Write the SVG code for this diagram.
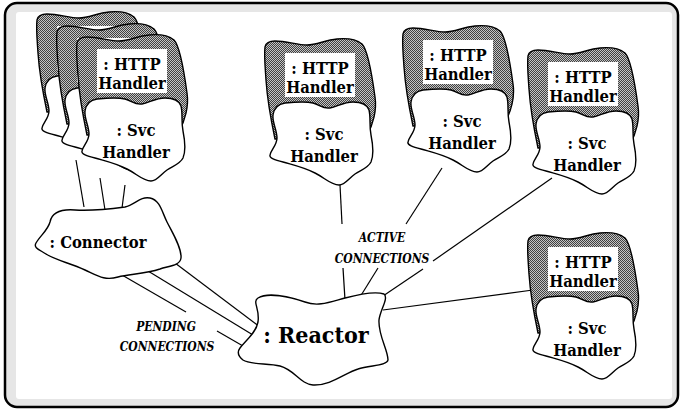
<svg xmlns="http://www.w3.org/2000/svg" xmlns:xlink="http://www.w3.org/1999/xlink" width="680" height="409" viewBox="0 0 680 409">
<style>
.cloud{fill:#fff;stroke:#000;stroke-width:1.4;stroke-linejoin:round}
.dark{fill:url(#dither);stroke:#000;stroke-width:1.4;stroke-linejoin:round}
.lbl{fill:#fff;stroke:none}
text{font-family:'DejaVu Serif Condensed','DejaVu Serif','Liberation Serif',serif;font-weight:bold;fill:#000;text-anchor:middle}
.t{font-size:16.5px}
.big{font-size:23px}
.it{font-style:italic;font-size:12px}
.conn line{stroke:#000;stroke-width:1.2}
</style>
<defs>
<pattern id="dither" width="2" height="2" patternUnits="userSpaceOnUse">
<rect width="2" height="2" fill="#c4c4c4"/>
<rect width="1" height="1" fill="#404040"/>
<rect x="1" y="1" width="1" height="1" fill="#404040"/>
</pattern>
<g id="handlerShape">
<path class="dark" d="M0,7 C1,2 5,1 10,1 C22,1 32,5 42,5 C52,5 60,0 72,-1 C82,-2 92,0 97,4 C103,10 107,35 110,57 C112,70 108,85 102,95 L10,99 C6,80 2,55 1,40 C0,25 -1,15 0,7 Z"/>
<rect class="lbl" x="20" y="13" width="70" height="44"/>
<path class="cloud" d="M8,75 C9,68 13,64 20,63 C30,62 40,61 48,63 C55,65 58,69 65,68 C72,67 78,62 88,62 C96,62 102,64 104,70 C106,78 104,85 106,95 C108,105 109,115 106,122 C103,128 96,130 90,134 C84,138 80,145 74,145 C66,145 60,138 50,133 C38,127 28,125 18,122 C10,120 4,118 5,115 C6,110 12,105 12,98 C12,90 7,82 8,75 Z"/>
</g>
</defs>

<rect x="5" y="3" width="673" height="404" rx="12" fill="#e6e6e6" stroke="#000" stroke-width="2.5"/>
<rect x="16" y="12" width="656" height="387" rx="3" fill="#fff"/>

<g id="connectors" class="conn">
<line x1="76" y1="160" x2="84" y2="207"/>
<line x1="100" y1="178" x2="105" y2="210"/>
<line x1="125" y1="185" x2="122" y2="208"/>
<line x1="122" y1="275" x2="186" y2="312"/>
<line x1="217" y1="331" x2="243" y2="346"/>
<line x1="148" y1="271" x2="253" y2="335"/>
<line x1="175" y1="263" x2="260" y2="327"/>
<line x1="340" y1="185" x2="342" y2="224"/>
<line x1="343" y1="268" x2="345" y2="300"/>
<line x1="442" y1="168" x2="406" y2="224"/>
<line x1="378" y1="268" x2="360" y2="297"/>
<line x1="552" y1="178" x2="433" y2="261"/>
<line x1="423" y1="269" x2="383" y2="296"/>
<line x1="383" y1="310" x2="533" y2="290"/>
</g>

<g id="labels">
<text class="it" x="382" y="242">ACTIVE</text>
<text class="it" x="382" y="263">CONNECTIONS</text>
<text class="it" x="166" y="331">PENDING</text>
<text class="it" x="167" y="351">CONNECTIONS</text>
</g>

<g id="handler-stack-3" transform="translate(37,13)">
<use xlink:href="#handlerShape"/>
</g>
<g id="handler-stack-2" transform="translate(57,25)">
<use xlink:href="#handlerShape"/>
</g>
<g id="handler-stack-1" transform="translate(77,36)">
<use xlink:href="#handlerShape"/>
<text class="t" x="55" y="34">: HTTP</text>
<text class="t" x="55" y="53">Handler</text>
<text class="t" x="59" y="100">: Svc</text>
<text class="t" x="59" y="122">Handler</text>
</g>

<g id="handler-2" transform="translate(265,40)">
<use xlink:href="#handlerShape"/>
<text class="t" x="55" y="34">: HTTP</text>
<text class="t" x="55" y="53">Handler</text>
<text class="t" x="59" y="100">: Svc</text>
<text class="t" x="59" y="122">Handler</text>
</g>

<g id="handler-3" transform="translate(403,27)">
<use xlink:href="#handlerShape"/>
<text class="t" x="55" y="34">: HTTP</text>
<text class="t" x="55" y="53">Handler</text>
<text class="t" x="59" y="100">: Svc</text>
<text class="t" x="59" y="122">Handler</text>
</g>

<g id="handler-4" transform="translate(528,49)">
<use xlink:href="#handlerShape"/>
<text class="t" x="55" y="34">: HTTP</text>
<text class="t" x="55" y="53">Handler</text>
<text class="t" x="59" y="100">: Svc</text>
<text class="t" x="59" y="122">Handler</text>
</g>

<g id="handler-5" transform="translate(528,234)">
<use xlink:href="#handlerShape"/>
<text class="t" x="55" y="34">: HTTP</text>
<text class="t" x="55" y="53">Handler</text>
<text class="t" x="59" y="100">: Svc</text>
<text class="t" x="59" y="122">Handler</text>
</g>

<g id="connector">
<path class="cloud" d="M36,243 C40,236 48,230 50,222 C52,212 62,209 75,210 C90,211 110,209 125,207 C135,205 140,196 150,198 C160,200 162,212 167,222 C172,232 182,248 181,258 C180,266 168,266 160,269 C145,274 130,274 118,277 C105,281 98,276 85,270 C70,263 55,260 46,254 C40,250 33,248 36,243 Z"/>
<text class="t" x="98" y="248">: Connector</text>
</g>

<g id="reactor">
<path class="cloud" d="M240,348 C246,340 256,333 258,322 C260,308 252,302 258,298 C268,292 290,297 305,302 C318,307 330,302 345,298 C360,294 375,291 384,294 C389,298 380,310 379,320 C378,335 388,350 388,360 C387,366 370,365 358,369 C345,373 330,386 313,385 C300,384 295,370 280,366 C268,363 250,365 243,360 C238,356 237,352 240,348 Z"/>
<text class="big" x="316" y="343">: Reactor</text>
</g>
</svg>
